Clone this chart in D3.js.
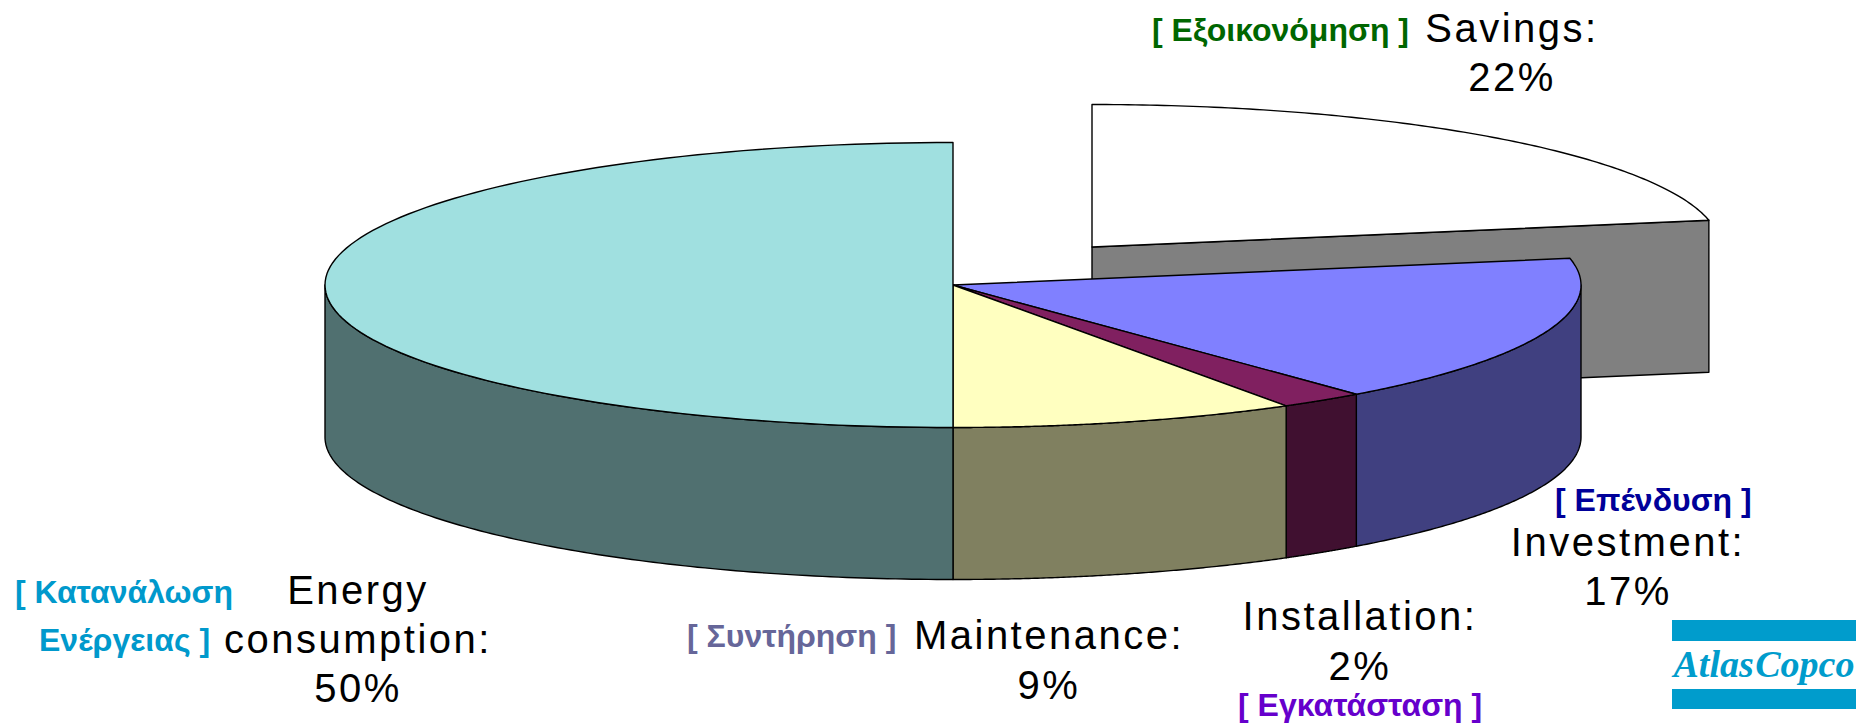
<!DOCTYPE html>
<html>
    <head>
    <meta charset="utf-8">
        <style>
            body { margin: 0; background: white; }
            svg { display: block; }
            .label { font-family: "Liberation Sans", Arial, sans-serif; fill: black; text-anchor: middle; font-size: 40px; }
            .greek { font-family: "Liberation Sans", Arial, sans-serif; font-weight: bold; font-size: 32px; text-anchor: start; }
            .slice { stroke: black; stroke-width: 1.4; stroke-linejoin: round; }
        </style>
        <!-- Load d3.js -->
        <script src="https://d3js.org/d3.v7.min.js"></script>
    </head>
    <body>
        <script>
            // data, clockwise from 12 o'clock
            var categories = ["Savings", "Investment", "Installation", "Maintenance", "Energy consumption"];
            var values = [22, 16.9, 2.2, 8.9, 50];

            var topColors = ["#ffffff", "#8080ff", "#802060", "#ffffc0", "#a0e0e0"];
            var sideColors = ["#808080", "#404080", "#401030", "#808060", "#507070"];

            // text blocks: black english lines and the coloured greek notes
            var labelLines = [
                ["Savings:", "22%"],
                ["Investment:", "17%"],
                ["Installation:", "2%"],
                ["Maintenance:", "9%"],
                ["Energy", "consumption:", "50%"]
            ];
            var labelX = [1512, 1628, 1360, 1049, 358];
            var labelY = [42, 556, 630, 649, 604];
            var labelSpacing = [49, 49, 50, 50, 49];

            var greekLines = [
                ["[ Εξοικονόμηση ]"],
                ["[ Επένδυση ]"],
                ["[ Εγκατάσταση ]"],
                ["[ Συντήρηση ]"],
                ["[ Κατανάλωση", "Ενέργειας ]"]
            ];
            var greekX = [[1152], [1555], [1238], [687], [15, 39]];
            var greekY = [[41], [511], [716], [647], [603, 651]];
            var greekColors = ["#006600", "#000099", "#6600cc", "#666699", "#0099cc"];

            var width = 1868, height = 724;

            // the pie is a flattened ellipse plus a wall below it
            var cx = 953, cy = 285, rx = 628, ry = 142.5, depth = 152;
            var explodeX = 139, explodeY = -38;

            var svg = d3.select("body").append("svg")
                .attr("width", width)
                .attr("height", height);

            // unit circle to screen
            var x = d3.scaleLinear().domain([-1, 1]).range([-rx, rx]);
            var y = d3.scaleLinear().domain([-1, 1]).range([-ry, ry]);

            var arcs = d3.pie().sort(null).value(function(d){ return d; })(values);

            var line = d3.line();

            function rimPoint(a) {
                return [x(Math.sin(a)), y(-Math.cos(a))];
            }

            function rim(a0, a1) {
                return d3.range(0, 121).map(function(i){
                    return rimPoint(a0 + (a1 - a0) * i / 120);
                });
            }

            function topPath(d) {
                return line([[0, 0]].concat(rim(d.startAngle, d.endAngle))) + "Z";
            }

            // outer wall, only the part in front (90 to 270 degrees) can be seen
            function wallPath(d) {
                var a0 = Math.max(d.startAngle, Math.PI / 2),
                    a1 = Math.min(d.endAngle, Math.PI * 1.5);
                var upper = rim(a0, a1);
                var lower = upper.map(function(p){ return [p[0], p[1] + depth]; }).reverse();
                return line(upper.concat(lower)) + "Z";
            }

            // cut face on the right side of the pulled out slice
            function facePath(d) {
                var p = rimPoint(d.endAngle);
                return line([[0, 0], p, [p[0], p[1] + depth], [0, depth]]) + "Z";
            }

            // Savings goes first, it sits behind the rest
            var savings = svg.append("g")
                .attr("transform", "translate(" + (cx + explodeX) + "," + (cy + explodeY) + ")");

            savings.append("path")
                .attr("class", "slice")
                .attr("d", facePath(arcs[0]))
                .attr("fill", sideColors[0]);

            savings.append("path")
                .attr("class", "slice")
                .attr("d", topPath(arcs[0]))
                .attr("fill", topColors[0]);

            var pie = svg.append("g")
                .attr("transform", "translate(" + cx + "," + cy + ")");

            pie.selectAll("path.wall")
                .data(arcs.slice(1))
                .enter()
                .append("path")
                .attr("class", "slice wall")
                .attr("d", wallPath)
                .attr("fill", function(d){ return sideColors[d.index]; });

            pie.selectAll("path.top")
                .data(arcs.slice(1))
                .enter()
                .append("path")
                .attr("class", "slice top")
                .attr("d", topPath)
                .attr("fill", function(d){ return topColors[d.index]; });

            // english labels
            categories.forEach(function(c, i){
                svg.selectAll("text.l" + i)
                    .data(labelLines[i])
                    .enter()
                    .append("text")
                    .attr("class", "label l" + i)
                    .attr("x", labelX[i])
                    .attr("y", function(d, j){ return labelY[i] + j * labelSpacing[i]; })
                    .style("letter-spacing", "2.5px")
                    .text(function(d){ return d; });
            });

            // greek labels
            categories.forEach(function(c, i){
                svg.selectAll("text.g" + i)
                    .data(greekLines[i])
                    .enter()
                    .append("text")
                    .attr("class", "greek g" + i)
                    .attr("x", function(d, j){ return greekX[i][j]; })
                    .attr("y", function(d, j){ return greekY[i][j]; })
                    .attr("fill", greekColors[i])
                    .text(function(d){ return d; });
            });

            // company logo, two bars with the name between
            var logo = svg.append("g").attr("fill", "#009ccc");
            logo.append("rect").attr("x", 1672).attr("y", 620).attr("width", 184).attr("height", 21);
            logo.append("rect").attr("x", 1672).attr("y", 689).attr("width", 184).attr("height", 20);
            logo.append("text")
                .attr("x", 1764)
                .attr("y", 677)
                .attr("text-anchor", "middle")
                .style("font-family", "'Liberation Serif', serif")
                .style("font-style", "italic")
                .style("font-weight", "bold")
                .style("font-size", "38px")
                .style("word-spacing", "-8px")
                .text("Atlas Copco");
        </script>
    </body>
</html>
